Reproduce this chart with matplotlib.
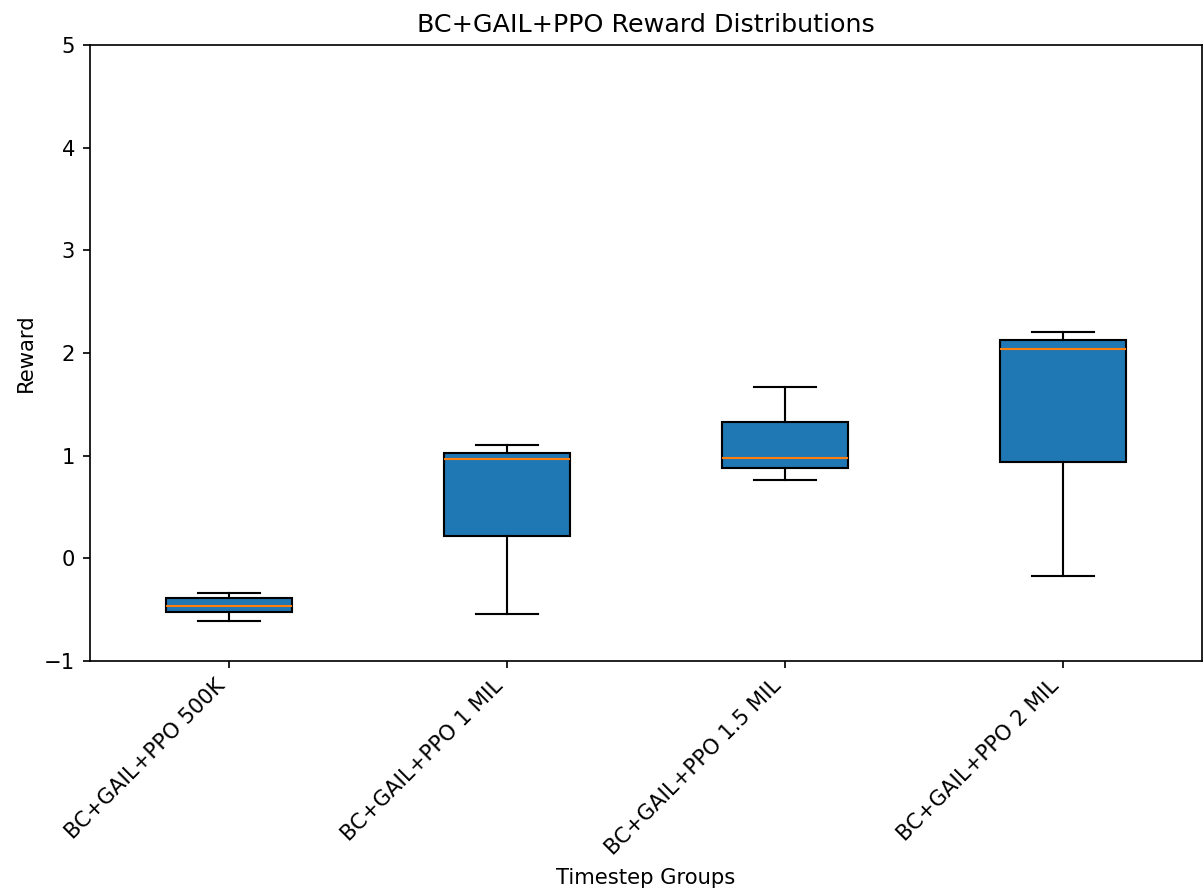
import matplotlib
matplotlib.use("Agg")
import matplotlib.pyplot as plt

groups = [
    "BC+GAIL+PPO 500K",
    "BC+GAIL+PPO 1 MIL",
    "BC+GAIL+PPO 1.5 MIL",
    "BC+GAIL+PPO 2 MIL",
]
whisker_low = [-0.607, -0.540, 0.760, -0.169]
q1 = [-0.526, 0.214, 0.877, 0.935]
median = [-0.462, 0.967, 0.980, 2.039]
q3 = [-0.390, 1.026, 1.325, 2.126]
whisker_high = [-0.335, 1.104, 1.666, 2.204]

stats = []
for name, lo, a, m, b, hi in zip(groups, whisker_low, q1, median, q3, whisker_high):
    stats.append({"label": name, "whislo": lo, "q1": a, "med": m, "q3": b, "whishi": hi, "fliers": []})

dpi = 152
fig = plt.figure(figsize=(1203 / dpi, 895 / dpi), dpi=dpi)
ax = fig.add_axes([90 / 1203, 1 - 661 / 895, 1112 / 1203, (661 - 45) / 895])

ax.bxp(stats, patch_artist=True, widths=0.45)
ax.set_xlim(0.5, 4.5)
ax.set_ylim(-1, 5)
ax.set_title("BC+GAIL+PPO Reward Distributions")
ax.set_xlabel("Timestep Groups")
ax.set_ylabel("Reward")
plt.setp(ax.get_xticklabels(), rotation=45, ha="right")

fig.savefig("out.png", dpi=dpi)
